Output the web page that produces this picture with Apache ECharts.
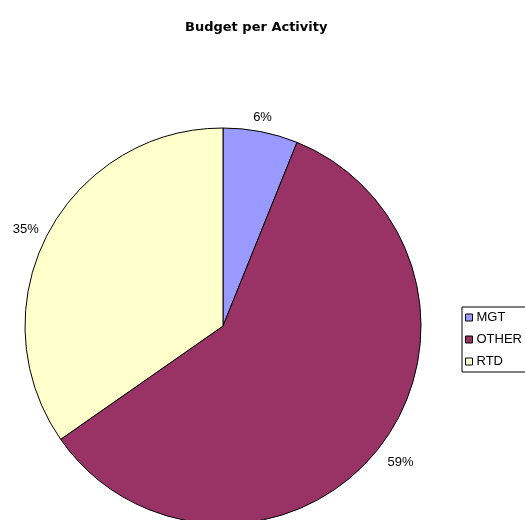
<!DOCTYPE html>
<html>
<head>
<meta charset="utf-8">
<script src="https://cdn.jsdelivr.net/npm/echarts@6/dist/echarts.min.js"></script>
<style>
html,body{margin:0;padding:0;background:#fff;}
#chart{width:525px;height:520px;}
</style>
</head>
<body>
<div id="chart"></div>
<script>
const categories = ['MGT', 'OTHER', 'RTD'];
const values = [6.1, 59.2, 34.7];
const colors = ['#9999FF', '#993366', '#FFFFCC'];
const titleText = 'Budget per Activity';

const FONT = 'Arial, "Liberation Sans", sans-serif';
const labelNudge = [[-2, 5], [7, 1], [-4, 4]];
const pieData = categories.map((c, i) => ({ name: c, value: values[i], itemStyle: { color: colors[i] } }));
const labelData = categories.map((c, i) => ({ name: c, value: values[i], label: { offset: labelNudge[i] } }));

const chart = echarts.init(document.getElementById('chart'), null, { renderer: 'canvas' });
chart.setOption({
  backgroundColor: '#ffffff',
  animation: false,
  title: {
    text: titleText,
    left: 180,
    top: 16,
    textStyle: { fontFamily: '"DejaVu Sans", Arial, sans-serif', fontSize: 13, fontWeight: 'bold', color: '#000' }
  },
  legend: {
    orient: 'vertical',
    left: 462,
    top: 307,
    data: categories,
    icon: 'rect',
    itemWidth: 7,
    itemHeight: 7,
    itemGap: 9,
    padding: [4, 40, 4, 3],
    borderColor: '#000',
    borderWidth: 1,
    itemStyle: { borderColor: '#000', borderWidth: 1 },
    textStyle: { fontFamily: FONT, fontSize: 13, color: '#000', padding: [0, 0, 0, -1] }
  },
  series: [
    {
      type: 'pie',
      center: [223, 326],
      radius: [0, 198],
      startAngle: 90,
      clockwise: true,
      silent: true,
      percentPrecision: 0,
      label: { show: false },
      labelLine: { show: false },
      itemStyle: { borderColor: '#000', borderWidth: 1 },
      data: pieData
    },
    {
      type: 'pie',
      center: [223, 326],
      radius: [196, 234],
      startAngle: 90,
      clockwise: true,
      silent: true,
      percentPrecision: 0,
      itemStyle: { color: 'rgba(0,0,0,0)', borderWidth: 0 },
      label: {
        show: true,
        position: 'inside',
        formatter: '{d}%',
        fontFamily: FONT,
        fontSize: 13,
        color: '#000'
      },
      labelLine: { show: false },
      emphasis: { disabled: true },
      data: labelData
    }
  ]
});
</script>
</body>
</html>
